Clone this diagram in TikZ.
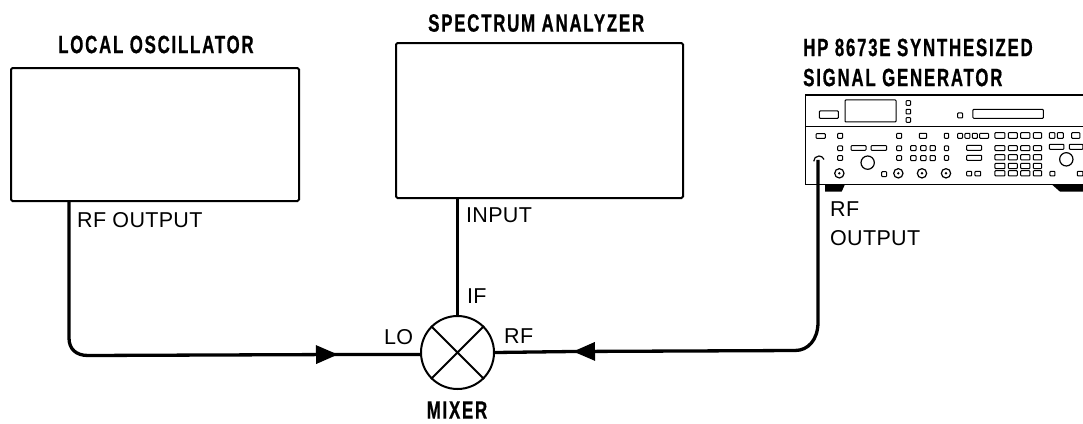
\documentclass[tikz,border=0pt]{standalone}
\usepackage{fontspec}
\setmainfont[LetterSpace=1.5]{Liberation Sans}
\newfontfamily\titlefont[FakeStretch=0.675,LetterSpace=7,BoldFont={Liberation Sans Bold},BoldFeatures={FakeBold=0.6}]{Liberation Sans}
\usetikzlibrary{arrows.meta}
\tikzset{
 box/.style={draw,line width=2pt,inner sep=0pt,anchor=north west,rounded corners=1.5pt},
 wire/.style={line width=3.3pt,line join=round},
 thin wire/.style={line width=3pt},
 tip/.style={-{Triangle[length=22pt,width=18pt]}},
 title/.style={font=\titlefont\bfseries\fontsize{25}{30}\selectfont,inner sep=0pt,align=left},
 lab/.style={font=\fontsize{21.5}{28}\selectfont,inner sep=0pt,align=left},
 gb/.style={line width=1pt,rounded corners=.8pt},
}
\newcommand{\gbx}[4]{\draw[gb] (#1,#2) rectangle (#3,#4);}
\begin{document}
\begin{tikzpicture}[x=1pt,y=-1pt]
\useasboundingbox (0,0) rectangle (1083,423);
\node[box,minimum width=288pt,minimum height=133pt] (lo) at (10,67) {};
\node[box,minimum width=287pt,minimum height=155pt] (sa) at (395,42) {};
\node[circle,draw,line width=2pt,minimum size=73pt,inner sep=0pt] (mx) at (457.5,352.5) {};
\draw[line width=2pt] (mx.45) -- (mx.225) (mx.135) -- (mx.315);
\node[title,anchor=west] (t1) at (58,44.5) {LOCAL OSCILLATOR};
\node[title,anchor=west] (t2) at (428,23) {SPECTRUM ANALYZER};
\node[title,anchor=west] (t3a) at (803,47.5) {HP 8673E SYNTHESIZED};
\node[title,anchor=west] (t3b) at (803,77.5) {SIGNAL GENERATOR};
\node[title,anchor=center] (t4) at (457,410) {MIXER};
\node[lab,anchor=west] (l1) at (77,220) {RF OUTPUT};
\node[lab,anchor=west] (l2) at (466,215) {INPUT};
\node[lab,anchor=west] (l3) at (467,296) {IF};
\node[lab,anchor=west] (l4) at (384,337) {LO};
\node[lab,anchor=west] (l5) at (504,336) {RF};
\node[lab,anchor=west] (l6) at (830,209) {RF};
\node[lab,anchor=west] (l7) at (830,238) {OUTPUT};
% generator
\begin{scope}[shift={(790,0)},x=.3333pt,y=-.3333pt]
\draw[line width=1.6pt] (879,285) -- (47,285) -- (47,553) -- (879,553);
\draw[line width=1.4pt] (47,380) -- (879,380);
\fill (105,553) -- (165,553) -- (155,575) -- (105,575) -- cycle;
\fill (785,553) -- (879,553) -- (879,575) -- (810,575) -- cycle;
\gbx{88}{333}{145}{355}
\gbx{165}{300}{318}{366}
\gbx{348}{302}{362}{316}\gbx{348}{328}{362}{342}\gbx{348}{353}{362}{367}
\gbx{503}{339}{518}{354}
\gbx{549}{328}{760}{355}
\gbx{78}{401}{106}{415}\gbx{143}{400}{158}{415}\gbx{320}{400}{335}{415}\gbx{388}{400}{410}{415}\gbx{463}{400}{476}{415}
\gbx{503}{400}{518}{415}\gbx{525}{400}{540}{415}\gbx{547}{400}{562}{415}\gbx{569}{400}{596}{415}
\gbx{615}{398}{645}{415}\gbx{655}{398}{682}{415}\gbx{692}{398}{720}{415}\gbx{730}{398}{755}{415}
\gbx{778}{398}{795}{415}\gbx{802}{398}{820}{415}\gbx{845}{398}{870}{415}
\gbx{143}{438}{158}{452}\gbx{183}{437}{228}{451}\gbx{243}{437}{290}{451}
\gbx{320}{438}{335}{452}\gbx{362}{437}{378}{452}\gbx{392}{437}{408}{452}\gbx{420}{437}{436}{452}\gbx{463}{438}{476}{452}
\gbx{530}{436}{575}{451}\gbx{615}{437}{645}{452}\gbx{655}{437}{682}{452}\gbx{692}{437}{720}{452}\gbx{730}{437}{755}{452}
\gbx{778}{433}{822}{448}\gbx{838}{433}{879}{448}
\gbx{143}{467}{158}{481}\gbx{320}{467}{335}{481}\gbx{362}{467}{378}{482}\gbx{392}{467}{408}{482}\gbx{420}{467}{436}{482}\gbx{463}{467}{476}{481}
\gbx{530}{466}{575}{481}\gbx{615}{464}{645}{480}\gbx{655}{464}{682}{480}\gbx{692}{464}{720}{480}\gbx{730}{464}{755}{480}
\gbx{615}{490}{645}{506}\gbx{655}{490}{682}{506}\gbx{692}{490}{720}{506}\gbx{730}{490}{755}{506}
\gbx{615}{512}{645}{528}\gbx{655}{512}{682}{528}\gbx{692}{512}{720}{528}\gbx{730}{512}{755}{528}
\gbx{275}{515}{290}{530}\gbx{530}{514}{545}{528}\gbx{555}{514}{572}{528}\gbx{780}{514}{795}{528}\gbx{862}{514}{879}{528}
\draw[line width=1.2pt] (233,488) circle[radius=20] (829,478) circle[radius=20];
\foreach \cx in {148,325,396,468}{\draw[line width=1.2pt] (\cx,520) circle[radius=14];\fill (\cx,520) circle[radius=4];}
\draw[line width=1.2pt] (71,484) arc[start angle=180,end angle=340,radius=16];
\coordinate (port) at (84,480);
\end{scope}
% connectors
\coordinate (a1) at (338,354.5);
\coordinate (a2) at (573,351.5);
\coordinate (lo1) at (69,200);
\draw[wire,tip] (lo1) -- (69,338) .. controls (69,349) and (76,355.5) .. (88,355.5) -- (a1);
\draw[wire,shorten <=-10pt] (a1) -- (mx.183);
\draw[wire,tip] (port) -- (818,322) .. controls (818,340) and (808,350.5) .. (795,350.5) -- (a2);
\draw[wire,shorten <=-10pt] (a2) -- (mx.east);
\draw[thin wire] (sa.south -| mx.north) -- (mx.north);
\end{tikzpicture}
\end{document}
